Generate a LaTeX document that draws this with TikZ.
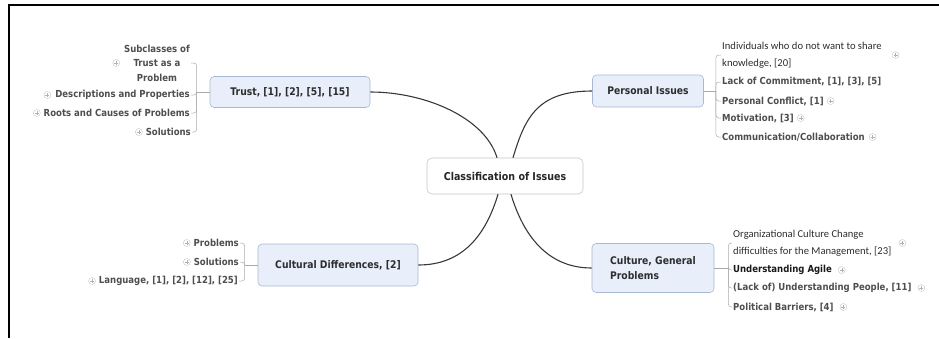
\documentclass[tikz,border=0pt]{standalone}
\usepackage{fontspec}
\setmainfont{DejaVu Sans}[FakeStretch=0.88]
\newfontfamily\condfont{Carlito}
\usetikzlibrary{positioning}
\definecolor{boxfill}{RGB}{232,239,250}
\definecolor{boxline}{RGB}{168,184,210}
\definecolor{maintext}{RGB}{45,45,45}
\definecolor{subtext}{RGB}{78,78,78}
\definecolor{hubgray}{RGB}{170,170,170}
\tikzset{
  topicbox/.style={draw=boxline,fill=boxfill,rounded corners=4pt,line width=.6pt,
    text=maintext,font=\bfseries\fontsize{10.5}{15}\selectfont},
  rootbox/.style={draw=gray!45,fill=white,rounded corners=5pt,line width=.6pt,
    text=black!85,font=\bfseries\fontsize{10.8}{12}\selectfont,
    minimum width=156pt,minimum height=36pt},
  leaftext/.style={inner sep=1pt,text=subtext,font=\bfseries\fontsize{9.7}{14.5}\selectfont},
  condtext/.style={inner sep=1pt,text=maintext,align=left,font=\condfont\fontsize{10.6}{17}\selectfont},
  plusmark/.style={circle,draw=gray!45,fill=white,inner sep=0pt,minimum size=7pt,line width=.4pt,
    path picture={\draw[gray!60,line width=.4pt]
      ([xshift=-2pt]path picture bounding box.center) -- ++(4pt,0)
      ([yshift=-2pt]path picture bounding box.center) -- ++(0,4pt);}},
  hubline/.style={draw=hubgray,line width=.5pt,rounded corners=3pt},
  trunkline/.style={draw=black!78,line width=1.1pt}
}

\begin{document}
\begin{tikzpicture}[x=1pt,y=-1pt]
  \useasboundingbox (0,0) rectangle (939,338);
  \draw[line width=1.3pt] (939,5) -- (9,5) -- (9,338);

  % main topics
  \node[rootbox] (cls) at (505,176) {Classification of Issues};
  \node[topicbox,minimum width=160pt,minimum height=31pt] (trust) at (290,92) {Trust, [1], [2], [5], [15]};
  \node[topicbox,minimum width=111pt,minimum height=32pt] (personal) at (648,91) {Personal Issues};
  \node[topicbox,minimum width=160pt,minimum height=42pt] (cultural) at (338,265) {Cultural Differences, [2]};
  \node[topicbox,minimum width=122pt,minimum height=49pt,align=left] (culture) at (653,268) {Culture, General\\Problems};

  \draw[trunkline] ([xshift=-8pt]cls.north) .. controls +(-12,-40) and +(55,0) .. (trust.east);
  \draw[trunkline] ([xshift=8pt]cls.north) .. controls +(12,-40) and +(-55,0) .. (personal.west);
  \draw[trunkline] ([xshift=-7pt]cls.south) .. controls +(-12,40) and +(45,0) .. (cultural.east);
  \draw[trunkline] ([xshift=6pt]cls.south) .. controls +(12,40) and +(-45,0) .. (culture.west);

  % trust
  \node[leaftext,anchor=east,align=center] (t1) at (191,63) {Subclasses of\\Trust as a\\Problem};
  \node[leaftext,anchor=east] (t2) at (191,95) {Descriptions and Properties};
  \node[leaftext,anchor=east] (t3) at (191,113) {Roots and Causes of Problems};
  \node[leaftext,anchor=east] (t4) at (192,132) {Solutions};
  \node[plusmark,left=3pt of t1] (t1x) {};
  \node[plusmark,left=3pt of t2] (t2x) {};
  \node[plusmark,left=2pt of t3] (t3x) {};
  \node[plusmark,left=2pt of t4] (t4x) {};
  \draw[hubline] (trust.west) -- ++(-13,0) coordinate (th);
  \foreach \c in {t1,t2,t3,t4}
    \draw[hubline] (th) |- (\c.east);

  % personal
  \node[condtext,anchor=west] (p1) at (721,55) {Individuals who do not want to share\\knowledge, [20]};
  \node[leaftext,anchor=west] (p2) at (721,82) {Lack of Commitment, [1], [3], [5]};
  \node[leaftext,anchor=west] (p3) at (721,101) {Personal Conflict, [1]};
  \node[leaftext,anchor=west] (p4) at (721,118) {Motivation, [3]};
  \node[leaftext,anchor=west] (p5) at (721,137) {Communication/Collaboration};
  \node[plusmark,right=9pt of p1] (p1x) {};
  \node[plusmark,right=2pt of p3] (p3x) {};
  \node[plusmark,right=2pt of p4] (p4x) {};
  \node[plusmark,right=3pt of p5] (p5x) {};
  \draw[hubline] (personal.east) -- ++(12,0) coordinate (ph);
  \foreach \c in {p1,p2,p3,p4,p5}
    \draw[hubline] (ph) |- (\c.west);

  % cultural differences
  \node[leaftext,anchor=east] (c1) at (240,243) {Problems};
  \node[leaftext,anchor=east] (c2) at (240,262) {Solutions};
  \node[leaftext,anchor=east] (c3) at (239,281) {Language, [1], [2], [12], [25]};
  \node[plusmark,left=2pt of c1] (c1x) {};
  \node[plusmark,left=2pt of c2] (c2x) {};
  \node[plusmark,left=2pt of c3] (c3x) {};
  \draw[hubline] (cultural.west) -- ++(-13,0) coordinate (ch);
  \foreach \c in {c1,c2,c3}
    \draw[hubline] (ch) |- (\c.east);

  % culture, general problems
  \node[condtext,anchor=west] (g1) at (732,243) {Organizational Culture Change\\difficulties for the Management, [23]};
  \node[leaftext,anchor=west,text=black!90] (g2) at (732,270) {Understanding Agile};
  \node[leaftext,anchor=west] (g3) at (732,288) {(Lack of) Understanding People, [11]};
  \node[leaftext,anchor=west] (g4) at (732,307) {Political Barriers, [4]};
  \node[plusmark,right=6pt of g1] (g1x) {};
  \node[plusmark,right=5pt of g2] (g2x) {};
  \node[plusmark,right=5pt of g3] (g3x) {};
  \node[plusmark,right=5pt of g4] (g4x) {};
  \draw[hubline] (culture.east) -- ++(14,0) coordinate (gh);
  \foreach \c in {g1,g2,g3,g4}
    \draw[hubline] (gh) |- (\c.west);
\end{tikzpicture}
\end{document}
